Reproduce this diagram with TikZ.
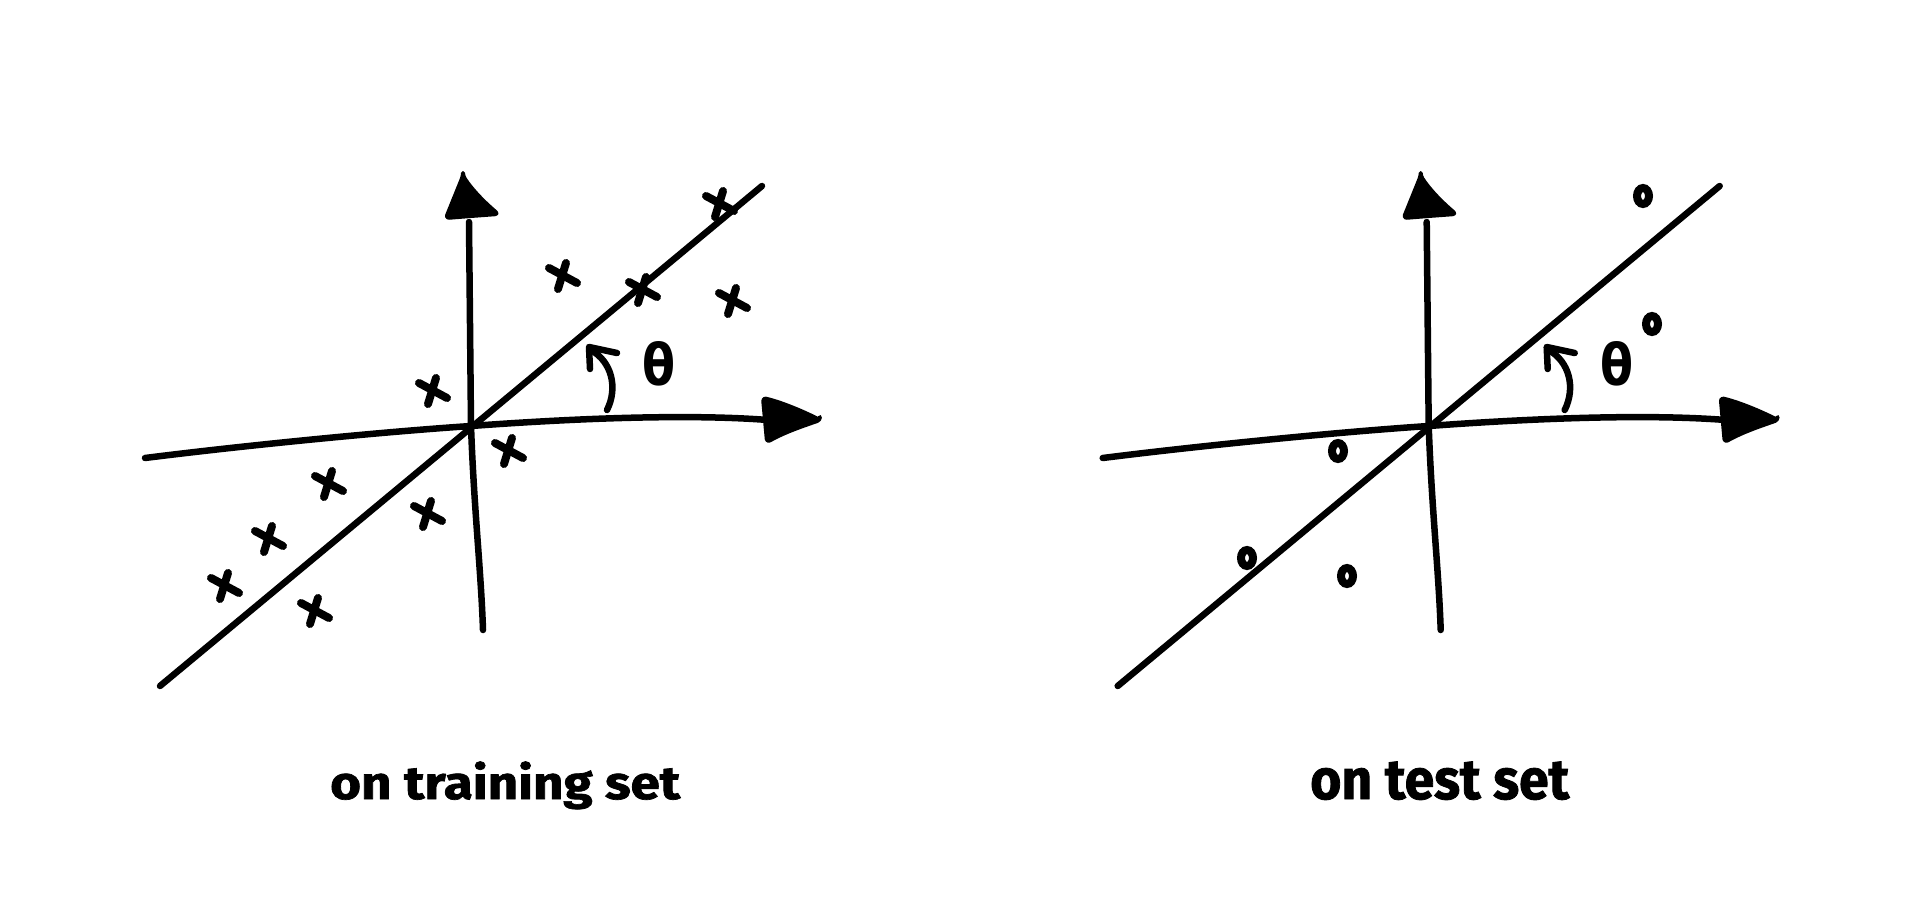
\documentclass[tikz,border=0pt]{standalone}
\usepackage{fontspec}
\usetikzlibrary{shapes.geometric}
\setmainfont{Fira Sans}
\newfontfamily\capfont{Fira Sans}[BoldFeatures={FakeBold=1.5}]
\newfontfamily\thetafont{DejaVu Sans}
\begin{document}
\begin{tikzpicture}[x=1pt,y=-1pt,
  axisline/.style={line width=6.5pt,line cap=round,line join=round},
  headfill/.style={fill=black,draw=black,line width=4pt,rounded corners=3pt,line join=round},
  markline/.style={line width=8pt,line cap=round},
  dotmark/.style={draw=black,line width=8pt,ellipse,minimum width=12pt,minimum height=16pt,inner sep=0pt},
  caption/.style={anchor=base west,inner sep=0pt,font=\capfont\bfseries},
  thetalabel/.style={inner sep=0pt,font=\thetafont\bfseries},
  xmark/.pic={\draw[markline] (3,-13) -- (-5,13); \draw[markline] (-14,-8) .. controls (0,-1) .. (14,7);},
  axespanel/.pic={
    \coordinate (-O) at (471,426);
    \coordinate (-vtop) at (469,222);
    \coordinate (-vbot) at (483,630);
    \coordinate (-hleft) at (145,458);
    \coordinate (-hright) at (768,420);
    \coordinate (-dlo) at (160,686);
    \coordinate (-dhi) at (762,186);
    % vertical axis
    \draw[axisline] (-vtop) -- (-O) .. controls (474,510) and (481,570) .. (-vbot);
    \draw[headfill] (463,176) -- (446,218) -- (471,216) -- (498,214) .. controls (485,203) and (472,190) .. cycle;
    % horizontal axis
    \draw[axisline] (-hleft) .. controls (240,446) and (380,432) .. (-O) .. controls (580,418) and (690,414) .. (-hright);
    \draw[headfill] (820,420) .. controls (800,410) and (780,402) .. (763,398) -- (765,420) -- (767,442) .. controls (785,432) and (800,427) .. cycle;
    % diagonal
    \draw[axisline] (-dlo) -- (-dhi);
    % angle arrow
    \draw[axisline] (607,410) .. controls (618,388) and (612,362) .. (591,350);
    \draw[axisline] (617,353) -- (589,347) -- (590,369);
    \node[thetalabel] (-theta) at (659,364) {\resizebox{33pt}{44pt}{θ}};
  }]
\useasboundingbox (0,0) rectangle (1920,907);
\fill[white] (0,0) rectangle (1920,907);

\pic (L) at (0,0) {axespanel};
\pic (R) at (957.7,0) {axespanel};

% crosses (training set)
\pic (c1) at (720,204) {xmark};
\pic (c2) at (563,276) {xmark};
\pic (c3) at (643,290) {xmark};
\pic (c4) at (733,301) {xmark};
\pic (c5) at (433,391) {xmark};
\pic (c6) at (509,451) {xmark};
\pic (c7) at (329,484) {xmark};
\pic (c8) at (269,539) {xmark};
\pic (c9) at (428,514) {xmark};
\pic (c10) at (225,586) {xmark};
\pic (c11) at (315,611) {xmark};

% circles (test set)
\node[dotmark] (o1) at (1643,196) {};
\node[dotmark] (o2) at (1652,324) {};
\node[dotmark] (o3) at (1338,451) {};
\node[dotmark] (o4) at (1247,558) {};
\node[dotmark] (o5) at (1347,576) {};

% captions
\node[caption] (capL) at (330,799) {\resizebox{350pt}{37.5pt}{on training set}};
\node[caption] (capR) at (1310,799) {\resizebox{259pt}{37.5pt}{on test set}};
\end{tikzpicture}
\end{document}
